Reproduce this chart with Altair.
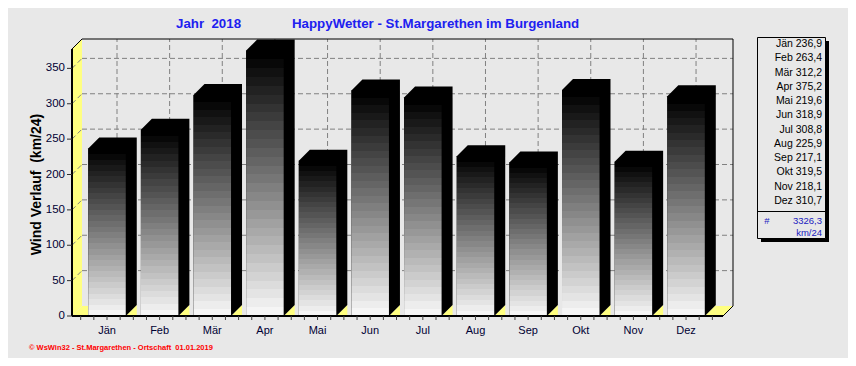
import altair as alt
import pandas as pd

months = ["Jän", "Feb", "Mär", "Apr", "Mai", "Jun", "Jul", "Aug", "Sep", "Okt", "Nov", "Dez"]
wind = [236.9, 263.4, 312.2, 375.2, 219.6, 318.9, 308.8, 225.9, 217.1, 319.5, 218.1, 310.7]
y_ticks = [0, 50, 100, 150, 200, 250, 300, 350]
title_left = "Jahr \u00a02018"
title_main = "HappyWetter - St.Margarethen im Burgenland"
y_title = "Wind Verlauf \u00a0(km/24)"
footer = "© WsWin32 - St.Margarethen - Ortschaft \u00a001.01.2019"
unit = "km/24"

# ---- layout helpers (pixel geometry of the drawing) ----
W, H = 840, 350
STEP = 52.64   # px per month
PX = 0.7075    # px per km/24
X0 = 99        # px of first month centre
Y0 = 308       # px of value 0
BG = "#e8e8e8"
YEL = "#ffff80"
FONT = "Liberation Sans"


def ix(px):
    return (px - X0) / STEP


def iv(py):
    return (Y0 - py) / PX


xs = alt.Scale(domain=[ix(0), ix(W)], nice=False, zero=False)
ys = alt.Scale(domain=[iv(H), iv(0)], nice=False, zero=False)


def X(f):
    return alt.X(f, type="quantitative", scale=xs, axis=None)


def Y(f):
    return alt.Y(f, type="quantitative", scale=ys, axis=None)


iL, iR, vT = ix(64), ix(715), iv(41)
dxw, dvw = 10 / STEP, 10 / PX
dxb, dvb = 11 / STEP, 11 / PX
hw = 18.75 / STEP
n = len(months)

# ---- grid (back wall) ----
hgrid = pd.DataFrame({"v": [t + dvw for t in y_ticks if t > 0]})
hgrid["x"] = iL + dxw
hgrid["x2"] = iR + dxw
vgrid = pd.DataFrame({"x": [i + dxw for i in range(n)]})
vgrid["y"] = dvw
vgrid["y2"] = vT + dvw
wgrid = pd.DataFrame({"y": [t for t in y_ticks if t > 0]})
wgrid["y2"] = wgrid["y"] + dvw
wgrid["x"] = iL
wgrid["x2"] = iL + dxw

dash = dict(color="#808080", strokeDash=[5, 3], strokeWidth=1)
l_hgrid = alt.Chart(hgrid).mark_rule(**dash).encode(x=X("x"), x2="x2", y=Y("v"))
l_vgrid = alt.Chart(vgrid).mark_rule(**dash).encode(x=X("x"), y=Y("y"), y2="y2")

# ---- yellow side wall ----
wall = pd.DataFrame({"x": [iL, iL + dxw], "y": [vT, vT + dvw], "y2": [0, dvw]})
l_wall = alt.Chart(wall).mark_area(orient="vertical", color=YEL).encode(x=X("x"), y=Y("y"), y2="y2")
l_wgrid = alt.Chart(wgrid).mark_rule(**dash).encode(x=X("x"), x2="x2", y=Y("y"), y2="y2")

# ---- floor pieces ----
fl = [dict(g=0, x=iL, y=0, y2=0), dict(g=0, x=iL + dxw, y=dvw, y2=0), dict(g=0, x=-hw, y=dvw, y2=0)]
for i in range(n):
    fl += [dict(g=i + 1, x=i + hw, y=0, y2=0), dict(g=i + 1, x=i + hw + dxb, y=dvb, y2=0)]
fl += [dict(g=99, x=n - 1 + hw + dxb, y=dvw, y2=0), dict(g=99, x=iR, y=dvw, y2=0),
       dict(g=99, x=iR + dxw, y=dvw, y2=dvw)]
l_floor = alt.Chart(pd.DataFrame(fl)).mark_area(orient="vertical", color=YEL).encode(
    x=X("x"), y=Y("y"), y2="y2", detail="g:N")

# ---- bars: black 3D body + gradient front face ----
hexr = []
for i, v in enumerate(wind):
    x0, x1 = i - hw, i + hw
    hexr += [dict(k=i, x=x0, y=v, y2=0), dict(k=i, x=x0 + dxb, y=v + dvb, y2=0),
             dict(k=i, x=x1, y=v + dvb, y2=0), dict(k=i, x=x1 + dxb, y=v + dvb, y2=dvb)]
l_body = alt.Chart(pd.DataFrame(hexr)).mark_area(orient="vertical", color="black").encode(
    x=X("x"), y=Y("y"), y2="y2", detail="k:N")

NB = 30
stops = []
for k in range(NB):
    g = round(k * 245 / (NB - 1))
    col = "#%02x%02x%02x" % (g, g, g)
    stops.append(alt.GradientStop(color=col, offset=k / NB))
    stops.append(alt.GradientStop(color=col, offset=(k + 1) / NB))
grad = alt.LinearGradient(gradient="linear", stops=stops, x1=0, x2=0, y1=0, y2=1)

bars = pd.DataFrame({"m": months, "v": wind, "i": list(range(n))})
bars["x0"] = bars["i"] - hw
bars["x1"] = bars["i"] + hw
bars["z"] = 0.0
l_face = alt.Chart(bars).mark_rect(fill=grad, strokeWidth=0).encode(
    x=X("x0"), x2="x1", y=Y("v"), y2="z")

# ---- frame lines ----
frame = pd.DataFrame([
    dict(x=iL, x2=iL, y=0, y2=vT, w=2),
    dict(x=iL, x2=iR, y=0, y2=0, w=2),
    dict(x=iL, x2=iL + dxw, y=vT, y2=vT + dvw, w=1),
    dict(x=iL + dxw, x2=iR + dxw, y=vT + dvw, y2=vT + dvw, w=1),
    dict(x=iR + dxw, x2=iR + dxw, y=dvw, y2=vT + dvw, w=1),
    dict(x=iR, x2=iR + dxw, y=0, y2=dvw, w=1),
])
l_frame = alt.Chart(frame).mark_rule(color="black").encode(
    x=X("x"), x2="x2", y=Y("y"), y2="y2",
    strokeWidth=alt.StrokeWidth("w:Q", scale=None, legend=None))

# ---- y axis ----
yt = pd.DataFrame({"t": y_ticks})
yt["x"] = iL - 5 / STEP
yt["x2"] = iL
yt["lx"] = iL - 7 / STEP
l_yticks = alt.Chart(yt).mark_rule(color="#303030").encode(x=X("x"), x2="x2", y=Y("t"))
l_ylab = alt.Chart(yt).mark_text(align="right", baseline="middle", font=FONT, fontSize=11.5,
                                  color="#000033").encode(x=X("lx"), y=Y("t"), text="t:Q")

# ---- x axis ----
xt = pd.DataFrame({"x": [q / 4 - 0.5 for q in range(4 * n + 1)]})
xt["y"] = 0
xt["y2"] = iv(312)
l_xticks = alt.Chart(xt).mark_rule(color="#404040").encode(x=X("x"), y=Y("y"), y2="y2")
bars["ly"] = iv(323)
l_xlab = alt.Chart(bars).mark_text(align="center", baseline="middle", font=FONT, fontSize=11,
                                    color="#000033").encode(x=X("i"), y=Y("ly"), text="m:N")

# ---- titles ----
tdf = pd.DataFrame({"a": [0]})
blue = "#2020f0"
l_t1 = alt.Chart(tdf).mark_text(text=title_left, align="left", baseline="alphabetic", font=FONT,
                                fontSize=13.3, fontWeight="bold", color=blue).encode(
    x=alt.value(168), y=alt.value(20))
l_t2 = alt.Chart(tdf).mark_text(text=title_main, align="left", baseline="alphabetic", font=FONT,
                                fontSize=13.3, fontWeight="bold", color=blue).encode(
    x=alt.value(284), y=alt.value(20))
l_yt = alt.Chart(tdf).mark_text(text=y_title, align="center", baseline="middle", angle=270, font=FONT,
                                fontSize=14, fontWeight="bold", color="black").encode(
    x=alt.value(29), y=alt.value(176.5))
l_foot = alt.Chart(tdf).mark_text(text=footer, align="left", baseline="middle", font=FONT,
                                  fontSize=7.5, fontWeight="bold", color="#ff0000").encode(
    x=alt.value(21), y=alt.value(339.5))

# ---- legend box ----
l_shadow = alt.Chart(tdf).mark_rect(color="black").encode(
    x=alt.value(753), x2=alt.value(821), y=alt.value(33), y2=alt.value(234))
l_box = alt.Chart(tdf).mark_rect(fill=BG, stroke="black", strokeWidth=1).encode(
    x=alt.value(749.5), x2=alt.value(817.5), y=alt.value(29.5), y2=alt.value(230.5))
leg = pd.DataFrame({"txt": ["%s %s" % (m, ("%.1f" % v).replace(".", ",")) for m, v in zip(months, wind)]})
leg["yy"] = [iv(36 + 14.25 * k) for k in range(n)]
l_leg = alt.Chart(leg).mark_text(align="right", baseline="middle", font=FONT, fontSize=10.5,
                                 color="black").encode(x=alt.value(814), y=Y("yy"), text="txt:N")
l_div = alt.Chart(tdf).mark_rule(color="black").encode(
    x=alt.value(749.5), x2=alt.value(817.5), y=alt.value(203.5))
total = ("%.1f" % sum(wind)).replace(".", ",")
l_hash = alt.Chart(tdf).mark_text(text="#", align="center", baseline="middle", font=FONT, fontSize=9.5,
                                  color="#2020c0").encode(x=alt.value(759), y=alt.value(213))
l_tot = alt.Chart(tdf).mark_text(text=total, align="right", baseline="middle", font=FONT, fontSize=9.5,
                                 color="#2020c0").encode(x=alt.value(814), y=alt.value(213))
l_unit = alt.Chart(tdf).mark_text(text=unit, align="right", baseline="middle", font=FONT, fontSize=9.5,
                                  color="#2020c0").encode(x=alt.value(814), y=alt.value(224.5))

chart = alt.layer(
    l_hgrid, l_vgrid, l_wall, l_wgrid, l_floor, l_body, l_face, l_frame,
    l_yticks, l_ylab, l_xticks, l_xlab, l_t1, l_t2, l_yt, l_foot,
    l_shadow, l_box, l_leg, l_div, l_hash, l_tot, l_unit,
).properties(
    width=W, height=H, background=BG, padding=0,
    autosize=alt.AutoSizeParams(type="none"),
).configure_view(stroke=None)

chart.save("out.html", embed_options={"renderer": "svg", "actions": False})
